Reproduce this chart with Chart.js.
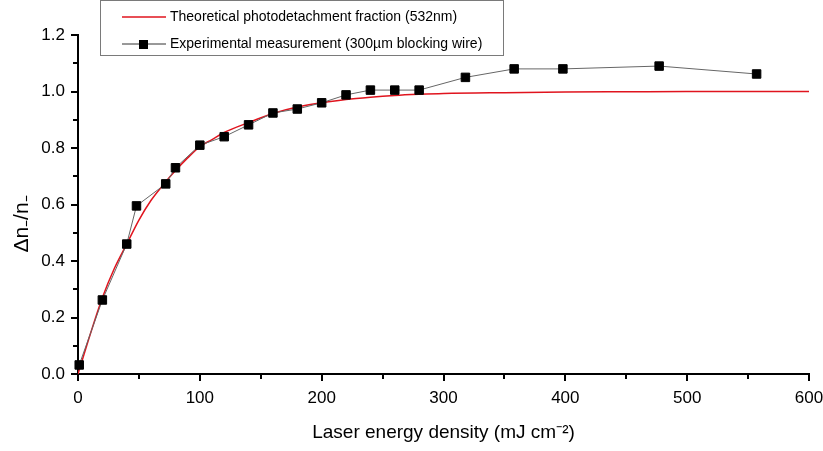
<!DOCTYPE html>
<html>
<head>
<meta charset="utf-8">
<script src="https://cdn.jsdelivr.net/npm/chart.js@4.4.1/dist/chart.umd.min.js"></script>
<style>
  html, body { margin: 0; padding: 0; background: #fff; }
  #wrap { width: 823px; height: 451px; }
</style>
</head>
<body>
<div id="wrap"><canvas id="chart" width="823" height="451"></canvas></div>
<script>
// theoretical curve
var thX = [0, 10, 20, 30, 40, 50, 60, 70, 80, 90, 100, 110, 120, 140, 160, 180, 200, 220, 240, 260, 280, 300, 350, 400, 450, 500, 550, 600];
var thY = [0, 0.14, 0.27, 0.375, 0.46, 0.545, 0.615, 0.67, 0.72, 0.765, 0.805, 0.83, 0.855, 0.89, 0.922, 0.945, 0.96, 0.972, 0.98, 0.986, 0.99, 0.993, 0.996, 0.998, 0.999, 1.0, 1.0, 1.0];

// experimental points
var expX = [1, 20, 40, 48, 72, 80, 100, 120, 140, 160, 180, 200, 220, 240, 260, 280, 318, 358, 398, 477, 557];
var expY = [0.032, 0.262, 0.46, 0.595, 0.673, 0.73, 0.81, 0.84, 0.882, 0.924, 0.938, 0.96, 0.988, 1.005, 1.005, 1.005, 1.05, 1.08, 1.08, 1.09, 1.062];

var thLabel = 'Theoretical photodetachment fraction (532nm)';
var expLabel = 'Experimental measurement (300\u00b5m blocking wire)';
var yTitle = '\u0394n\u208b/n\u208b';

var FONT = '"Liberation Sans", Arial, sans-serif';

function toPoints(xs, ys) {
    var pts = [];
    for (var i = 0; i < xs.length; i++) pts.push({x: xs[i], y: ys[i]});
    return pts;
}

// outward ticks, long for labelled values, short for the rest
var tickPlugin = {
    id: 'ticks',
    afterDraw: function(chart) {
        var ctx = chart.ctx;
        var xs = chart.scales.x, ys = chart.scales.y;
        ctx.save();
        ctx.strokeStyle = '#000';
        ctx.lineWidth = 2;
        xs.ticks.forEach(function(t) {
            var px = Math.round(xs.getPixelForValue(t.value));
            var major = Math.round(t.value) % 100 === 0;
            ctx.beginPath();
            ctx.moveTo(px, xs.top);
            ctx.lineTo(px, xs.top + (major ? 7 : 5));
            ctx.stroke();
        });
        ys.ticks.forEach(function(t) {
            var py = Math.round(ys.getPixelForValue(t.value));
            var major = Math.round(t.value * 10) % 2 === 0;
            ctx.beginPath();
            ctx.moveTo(ys.right, py);
            ctx.lineTo(ys.right - (major ? 7 : 5), py);
            ctx.stroke();
        });

        // y axis title, sits a bit below the middle in the original
        ctx.translate(28, 224);
        ctx.rotate(-Math.PI / 2);
        ctx.font = '21px ' + FONT;
        ctx.fillStyle = '#000';
        ctx.textAlign = 'center';
        ctx.textBaseline = 'alphabetic';
        ctx.fillText(yTitle, 0, 0);
        ctx.restore();
    }
};

// boxed legend sitting above the plot
var legendPlugin = {
    id: 'boxLegend',
    afterDraw: function(chart) {
        var ctx = chart.ctx;
        ctx.save();
        ctx.strokeStyle = '#7a7a7a';
        ctx.lineWidth = 1;
        ctx.strokeRect(100.5, 0.5, 403, 55);

        ctx.font = '14px ' + FONT;
        ctx.fillStyle = '#000';
        ctx.textBaseline = 'middle';

        ctx.strokeStyle = '#e0141e';
        ctx.lineWidth = 1.5;
        ctx.beginPath(); ctx.moveTo(122, 17); ctx.lineTo(166, 17); ctx.stroke();
        ctx.fillText(thLabel, 170, 17);

        ctx.strokeStyle = '#333';
        ctx.lineWidth = 1;
        ctx.beginPath(); ctx.moveTo(122, 44); ctx.lineTo(166, 44); ctx.stroke();
        ctx.fillStyle = '#000';
        ctx.fillRect(139, 40, 9, 9);
        ctx.fillText(expLabel, 170, 44);
        ctx.restore();
    }
};

var ctx = document.getElementById('chart');
var chart = new Chart(ctx, {
    type: 'line',
    data: {
        datasets: [
            {
                label: thLabel,
                data: toPoints(thX, thY),
                borderColor: '#e0141e',
                borderWidth: 1.5,
                pointRadius: 0,
                cubicInterpolationMode: 'monotone',
                fill: false,
                order: 1
            },
            {
                label: expLabel,
                data: toPoints(expX, expY),
                borderColor: '#666',
                borderWidth: 1,
                pointStyle: 'rect',
                pointRadius: 6,
                pointBackgroundColor: '#000',
                pointBorderColor: '#000',
                pointBorderWidth: 1,
                tension: 0,
                fill: false,
                clip: false,
                order: 0
            }
        ]
    },
    options: {
        responsive: false,
        animation: false,
        layout: { padding: { top: 35, right: 14, left: 0, bottom: 0 } },
        plugins: {
            legend: { display: false },
            tooltip: { enabled: false }
        },
        scales: {
            x: {
                type: 'linear',
                min: 0,
                max: 600,
                grid: { display: false, drawTicks: false },
                border: { display: true, color: '#000', width: 2 },
                ticks: {
                    stepSize: 50,
                    autoSkip: false,
                    maxRotation: 0,
                    padding: 14,
                    color: '#000',
                    font: { family: FONT, size: 17 },
                    callback: function(v) { return v % 100 === 0 ? String(v) : ''; }
                },
                title: {
                    display: true,
                    text: 'Laser energy density (mJ cm\u207b\u00b2)',
                    color: '#000',
                    font: { family: FONT, size: 19 },
                    padding: { top: 0, bottom: 7 }
                },
                afterFit: function(s) {
                    s.height = 77;
                    s.paddingLeft = 0;
                    s.paddingRight = 0;
                }
            },
            y: {
                min: 0,
                max: 1.2,
                grid: { display: false, drawTicks: false },
                border: { display: true, color: '#000', width: 2 },
                ticks: {
                    stepSize: 0.1,
                    autoSkip: false,
                    padding: 13,
                    color: '#000',
                    font: { family: FONT, size: 17 },
                    callback: function(v) { return Math.round(v * 10) % 2 === 0 ? v.toFixed(1) : ''; }
                },
                afterFit: function(s) {
                    s.width = 78;
                    s.paddingTop = 0;
                    s.paddingBottom = 0;
                }
            }
        }
    },
    plugins: [tickPlugin, legendPlugin]
});
</script>
</body>
</html>
